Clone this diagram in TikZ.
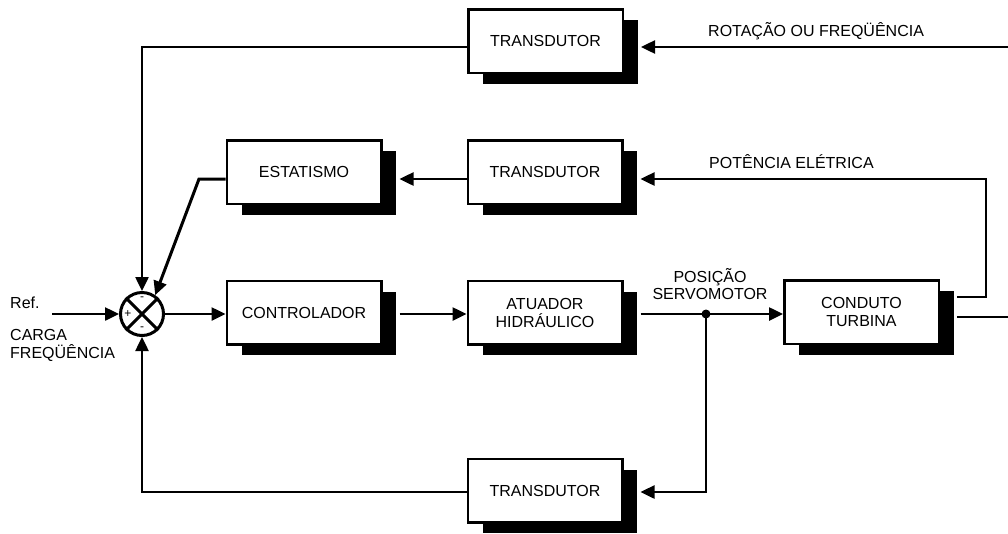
\documentclass[tikz,border=0pt]{standalone}
\usepackage{fontspec}
\setmainfont{Liberation Sans}
\usetikzlibrary{arrows.meta,calc,shadows}
\begin{document}
\begin{tikzpicture}[x=1pt,y=-1pt,
  blk/.style={draw, line width=2.5pt, fill=white, minimum width=154.5pt, minimum height=63.5pt,
    inner sep=0pt, align=center, font=\fontsize{16}{18}\selectfont,
    drop shadow={shadow xshift=15pt, shadow yshift=-11pt, fill=black, opacity=1}},
  arr/.style={line width=2.5pt, -{Triangle[length=14pt,width=13pt]}},
  ln/.style={line width=2.5pt},
  lbl/.style={font=\fontsize{16}{18}\selectfont, inner sep=0pt, anchor=base west},
  clbl/.style={font=\fontsize{16}{18}\selectfont, inner sep=0pt, anchor=base},
  sgn/.style={font=\fontsize{12}{12}\selectfont, inner sep=0pt},
]
\useasboundingbox (0,0) rectangle (1008,533);

% blocks
\node[blk] (t1) at (545.5,41) {TRANSDUTOR};
\node[blk] (est) at (304,172) {ESTATISMO};
\node[blk] (t2) at (545,172) {TRANSDUTOR};
\node[blk] (ctrl) at (304,312.5) {CONTROLADOR};
\node[blk] (atu) at (545,312.5) {ATUADOR\\HIDRÁULICO};
\node[blk] (cond) at (861.5,312) {CONDUTO\\TURBINA};
\node[blk] (t3) at (545,490.5) {TRANSDUTOR};

% summing junction
\node[circle, draw, line width=3pt, minimum size=43pt, inner sep=0pt] (sj) at (142,314) {};
\draw[line width=3pt] (sj.45) -- (sj.225) (sj.135) -- (sj.315);
\node[sgn] (sgt) at ($(sj.center)+(0,-15)$) {-};
\node[sgn] (sgl) at ($(sj.center)+(-14,0)$) {+};
\node[sgn] (sgb) at ($(sj.center)+(0,15)$) {-};

% row levels and free ends
\coordinate (r1) at (0,47);
\coordinate (r2) at (0,179);
\coordinate (r3) at (0,314);
\coordinate (r4) at (0,492);
\coordinate (rotin) at (1008,47);
\coordinate (refin) at (52,314);
\coordinate (pfb) at (986,297);
\coordinate (tap) at (706,314);
\coordinate (out) at (1008,317);
\coordinate (bend) at (199,179);

% connectors
\draw[arr] (rotin) -- ($(t1.east|-r1)+(17,0)$);
\draw[arr] (t1.west|-r1) -| (sj.north);
\draw[arr] ($(cond.east|-pfb)+(17,0)$) -- (pfb) |- ($(t2.east|-r2)+(17,0)$);
\draw[arr] (t2.west|-r2) -- ($(est.east|-r2)+(17,0)$);
\draw[line width=3pt, -{Triangle[length=14pt,width=13pt]}] (est.west|-r2) -- (bend) -- (sj.55);
\draw[arr] (refin) -- (sj.west);
\draw[arr] (sj.east) -- (ctrl.west|-r3);
\draw[arr] ($(ctrl.east|-r3)+(17,0)$) -- (atu.west|-r3);
\draw[arr] ($(atu.east|-r3)+(17,0)$) -- (cond.west|-r3);
\fill (tap) circle (4.5);
\draw[arr] (tap) |- ($(t3.east|-r4)+(17,0)$);
\draw[arr] (t3.west|-r4) -| (sj.south);
\draw[ln] ($(cond.east|-out)+(17,0)$) -- (out);

% labels
\node[lbl] (lrot) at (708,36) {ROTAÇÃO OU FREQÜÊNCIA};
\node[lbl] (lpot) at (709,168) {POTÊNCIA ELÉTRICA};
\node[clbl] (lpos1) at (710,282) {POSIÇÃO};
\node[clbl] (lpos2) at (710,299) {SERVOMOTOR};
\node[lbl] (lref) at (10,308) {Ref.};
\node[lbl] (lcar) at (10,340) {CARGA};
\node[lbl] (lfre) at (10,358) {FREQÜÊNCIA};
\end{tikzpicture}
\end{document}
